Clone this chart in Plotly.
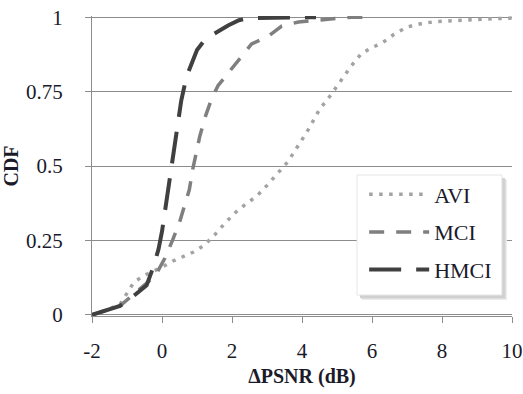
import plotly.graph_objects as go

# ---- data ----
avi_x = [-2, -1.6, -1.2, -1.0, -0.8, -0.5, -0.2, 0.0, 0.3, 0.6, 0.9, 1.2, 1.5, 1.8, 2.1, 2.4, 2.7,
         3.0, 3.3, 3.6, 3.9, 4.2, 4.5, 4.8, 5.1, 5.4, 5.7, 6.0, 6.3, 6.6, 7.0, 7.4, 7.8, 8.2, 8.6,
         9.0, 9.5, 10]
avi_y = [0, 0.015, 0.035, 0.075, 0.11, 0.133, 0.148, 0.16, 0.18, 0.194, 0.211, 0.233, 0.268, 0.308,
         0.344, 0.373, 0.398, 0.435, 0.475, 0.515, 0.57, 0.626, 0.69, 0.735, 0.785, 0.835, 0.878,
         0.898, 0.914, 0.94, 0.967, 0.978, 0.985, 0.988, 0.99, 0.992, 0.995, 0.997]

mci_x = [-2, -1.6, -1.2, -0.8, -0.4, -0.16, 0.08, 0.3, 0.5, 0.65, 0.78, 0.88, 0.97, 1.08, 1.25,
         1.4, 1.6, 1.9, 2.23, 2.56, 3.04, 3.42, 3.9, 4.42, 4.8, 5.4, 5.75]
mci_y = [0, 0.015, 0.03, 0.07, 0.11, 0.138, 0.19, 0.25, 0.31, 0.37, 0.42, 0.49, 0.54, 0.60, 0.67,
         0.72, 0.77, 0.815, 0.86, 0.91, 0.936, 0.97, 0.984, 0.99, 0.995, 1.0, 1.0]

hmci_x = [-2, -1.6, -1.2, -0.9, -0.6, -0.44, -0.25, -0.1, 0.0, 0.1, 0.2, 0.3, 0.45, 0.55, 0.7,
          0.85, 1.0, 1.2, 1.5, 1.9, 2.2, 2.5, 3.0, 3.5, 4.4]
hmci_y = [0, 0.015, 0.03, 0.055, 0.085, 0.099, 0.16, 0.22, 0.28, 0.36, 0.46, 0.54, 0.66, 0.72,
          0.80, 0.85, 0.89, 0.92, 0.945, 0.973, 0.99, 0.997, 0.998, 1.0, 1.0]

series_names = ["AVI", "MCI", "HMCI"]
x_ticks = [-2, 0, 2, 4, 6, 8, 10]
x_tick_text = ["-2", "0", "2", "4", "6", "8", "10"]
y_ticks = [0, 0.25, 0.5, 0.75, 1]
y_tick_text = ["0", "0.25", "0.5", "0.75", "1"]

FONT = "Liberation Serif"
GRID = "#8c8c8c"
TXT = "#1a1a2a"

fig = go.Figure()
fig.add_trace(go.Scatter(x=avi_x, y=avi_y, mode="lines", name=series_names[0], legendgroup="a",
                         line=dict(color="#a3a3a3", width=3.5, dash="3.5px,6.5px")))
fig.add_trace(go.Scatter(x=mci_x, y=mci_y, mode="lines", name=series_names[1], legendgroup="b",
                         line=dict(color="#7f7f7f", width=3.5, dash="15px,12px")))
fig.add_trace(go.Scatter(x=hmci_x, y=hmci_y, mode="lines", name=series_names[2], legendgroup="c",
                         line=dict(color="#404040", width=4, dash="32px,15px")))

# legend frame with a soft drop shadow (paper coordinates of the plot area)
shapes = []
for off, col in [(5, "#ececec"), (4, "#dedede"), (3, "#d0d0d0")]:
    shapes.append(dict(type="rect", xref="paper", yref="paper", layer="above",
                       x0=0.631 + off / 420, x1=0.976 + off / 420,
                       y0=0.07 - off / 300, y1=0.47 - off / 300,
                       line=dict(width=0), fillcolor=col))
shapes.append(dict(type="rect", xref="paper", yref="paper", layer="above",
                   x0=0.631, x1=0.976, y0=0.07, y1=0.47,
                   line=dict(width=1, color="#e6e6e6"), fillcolor="white"))

fig.update_layout(
    template="none",
    width=523, height=394,
    margin=dict(l=92, r=11, t=16, b=78, autoexpand=False),
    paper_bgcolor="white", plot_bgcolor="white",
    font=dict(family=FONT, color=TXT),
    showlegend=True,
    shapes=shapes,
    legend=dict(
        x=0.648, y=0.475, xanchor="left", yanchor="top",
        bgcolor="rgba(0,0,0,0)", borderwidth=0,
        font=dict(family=FONT, size=22, color=TXT),
        traceorder="grouped", tracegroupgap=6,
        itemwidth=60,
    ),
    xaxis=dict(
        range=[-2, 10], tickvals=x_ticks, ticktext=x_tick_text,
        showgrid=False, zeroline=False, automargin=False,
        showline=True, linecolor=GRID, linewidth=1,
        ticks="outside", ticklen=6, tickcolor=GRID, tickwidth=1,
        ticklabelstandoff=10,
        tickfont=dict(family=FONT, size=21, color=TXT),
        title=dict(text="<b>ΔPSNR (dB)</b>", font=dict(family=FONT, size=20, color=TXT),
                   standoff=6),
    ),
    yaxis=dict(
        range=[-0.004, 1.004], tickvals=y_ticks, ticktext=y_tick_text, automargin=False,
        showgrid=True, gridcolor=GRID, gridwidth=1, zeroline=False,
        showline=True, linecolor=GRID, linewidth=1,
        ticks="outside", ticklen=6, tickcolor=GRID, tickwidth=1,
        ticklabelstandoff=18,
        tickfont=dict(family=FONT, size=21, color=TXT),
        title=dict(text="<b>CDF</b>", font=dict(family=FONT, size=20, color=TXT),
                   standoff=10),
    ),
)

fig.write_html("out.html", config={"displayModeBar": False, "responsive": False})

# remove the default page margin so the figure sits at the window origin
with open("out.html", encoding="utf-8") as f:
    html = f.read()
html = html.replace("<head>", "<head><style>html,body{margin:0;padding:0;overflow:hidden;}</style>", 1)
with open("out.html", "w", encoding="utf-8") as f:
    f.write(html)
